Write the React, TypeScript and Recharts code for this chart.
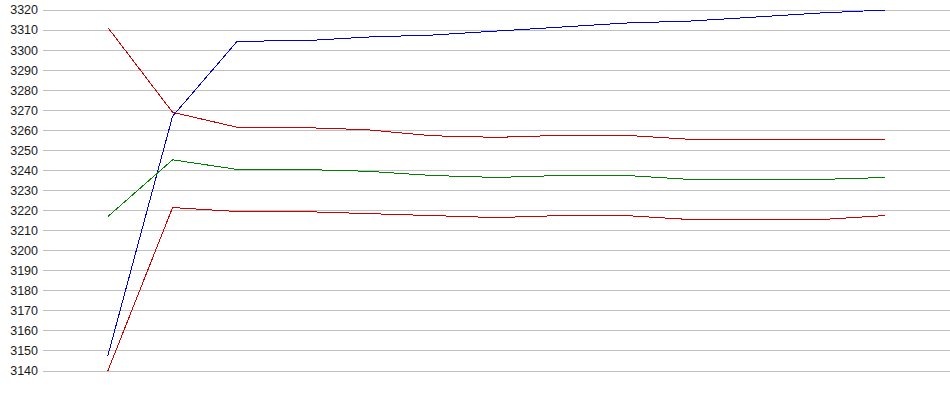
import React from 'react';
import { LineChart, Line, XAxis, YAxis, CartesianGrid } from 'recharts';

// sample positions along the x axis (axis runs 0..14, no labels drawn)
const steps = [1, 2, 3, 4, 5, 6, 7, 8, 9, 10, 11, 12, 13];

const blueSeries = [3147.5, 3267, 3304.5, 3304.6, 3306.5, 3307.5, 3309.5, 3311.5, 3313.5, 3314.5, 3316.5, 3318.5, 3320];
const redHigh = [3311.3, 3269, 3261.5, 3261.4, 3260.3, 3257.3, 3256.5, 3257.5, 3257.5, 3255.5, 3255.5, 3255.5, 3255.5];
const greenSeries = [3217, 3245.3, 3240.5, 3240.5, 3239.6, 3237.5, 3236.5, 3237.5, 3237.5, 3235.5, 3235.5, 3235.5, 3236.5];
const redLow = [3140, 3221.5, 3219.5, 3219.5, 3218.5, 3217.5, 3216.5, 3217.5, 3217.5, 3215.5, 3215.5, 3215.5, 3217.5];

const yTicks = [3140, 3150, 3160, 3170, 3180, 3190, 3200, 3210, 3220, 3230, 3240, 3250, 3260, 3270, 3280, 3290, 3300, 3310, 3320];

const data = steps.map((x, i) => ({
  x,
  blue: blueSeries[i],
  redHigh: redHigh[i],
  green: greenSeries[i],
  redLow: redLow[i],
}));

const App: React.FC = () => {
  return (
    <div style={{ position: 'absolute', left: 0, top: 0, width: 950, height: 395, background: '#fff' }}>
      <LineChart width={950} height={395} data={data} margin={{ top: 10, right: 0, left: 0, bottom: 24 }}>
        <CartesianGrid vertical={false} stroke="#c0c0c0" strokeWidth={1} shapeRendering="crispEdges" />
        <XAxis type="number" dataKey="x" domain={[0, 14]} hide />
        <YAxis
          width={43}
          domain={[3140, 3320]}
          ticks={yTicks}
          interval={0}
          axisLine={false}
          tickLine={false}
          tickSize={0}
          tickMargin={5}
          tick={{ fill: '#1a1a1a', fontSize: 12.5, fontFamily: 'Liberation Sans, Arial, sans-serif' }}
        />
        <Line type="linear" dataKey="blue" stroke="#0000cc" strokeWidth={1} dot={false} activeDot={false} isAnimationActive={false} shapeRendering="crispEdges" />
        <Line type="linear" dataKey="redHigh" stroke="#cc0000" strokeWidth={1} dot={false} activeDot={false} isAnimationActive={false} shapeRendering="crispEdges" />
        <Line type="linear" dataKey="green" stroke="#008000" strokeWidth={1} dot={false} activeDot={false} isAnimationActive={false} shapeRendering="crispEdges" />
        <Line type="linear" dataKey="redLow" stroke="#cc0000" strokeWidth={1} dot={false} activeDot={false} isAnimationActive={false} shapeRendering="crispEdges" />
      </LineChart>
    </div>
  );
};

export default App;
